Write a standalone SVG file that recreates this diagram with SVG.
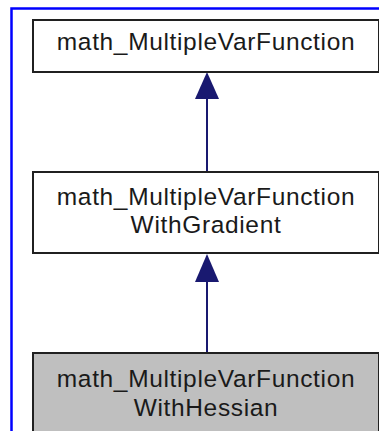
<svg xmlns="http://www.w3.org/2000/svg" width="379" height="431" viewBox="0 0 379 431">
<style>
.frame{fill:none;stroke:#0000ff;stroke-width:2.5}
.box{fill:#ffffff;stroke:#202020;stroke-width:2}
.cur{fill:#bfbfbf;stroke:#202020;stroke-width:2}
.t{font-family:"Liberation Sans",Arial,sans-serif;font-size:24.5px;letter-spacing:0.65px;fill:#1a1a1a;text-anchor:middle}
.edge{stroke:#191970;stroke-width:2;fill:none}
</style>
<rect class="frame" x="11.5" y="8.5" width="380" height="440"/>
<g id="connectors">
<line class="edge" x1="207" y1="172" x2="207" y2="99"/>
<polygon points="207,72 195,99 219,99" fill="#191970"/>
<line class="edge" x1="207" y1="353" x2="207" y2="282"/>
<polygon points="207,254 195,282 219,282" fill="#191970"/>
</g>
<g id="n1">
<rect class="box" x="33" y="20" width="346" height="52"/>
<text class="t" x="206" y="50">math_MultipleVarFunction</text>
</g>
<g id="n2">
<rect class="box" x="33" y="172" width="346" height="81"/>
<text class="t" x="206" y="205">math_MultipleVarFunction</text>
<text class="t" x="206" y="233">WithGradient</text>
</g>
<g id="n3">
<rect class="cur" x="33" y="353" width="346" height="90"/>
<text class="t" x="206" y="387">math_MultipleVarFunction</text>
<text class="t" x="206" y="416">WithHessian</text>
</g>
</svg>
